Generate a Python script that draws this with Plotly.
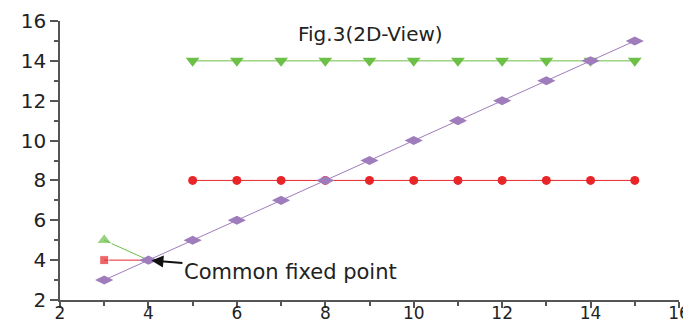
import plotly.graph_objects as go

# Data
diag_x = [3, 4, 5, 6, 7, 8, 9, 10, 11, 12, 13, 14, 15]
diag_y = [3, 4, 5, 6, 7, 8, 9, 10, 11, 12, 13, 14, 15]

green_start_x = [3, 4]
green_start_y = [5, 4]
green_x = [5, 6, 7, 8, 9, 10, 11, 12, 13, 14, 15]
green_y = [14, 14, 14, 14, 14, 14, 14, 14, 14, 14, 14]

red_start_x = [3, 4]
red_start_y = [4, 4]
red_x = [5, 6, 7, 8, 9, 10, 11, 12, 13, 14, 15]
red_y = [8, 8, 8, 8, 8, 8, 8, 8, 8, 8, 8]

fixed_point = (4, 4)
title_text = "Fig.3(2D-View)"
annot_text = "Common fixed point"

GREEN = "#6cbf47"
RED = "#e8262a"
PURPLE = "#9f7cbb"
FONT = "DejaVu Sans, Liberation Sans, Arial"

fig = go.Figure()

fig.add_trace(go.Scatter(x=green_start_x, y=green_start_y, mode="lines+markers",
                         line=dict(color=GREEN, width=1),
                         marker=dict(symbol="triangle-up", size=[13, 0], color=GREEN)))
fig.add_trace(go.Scatter(x=red_start_x, y=red_start_y, mode="lines+markers",
                         line=dict(color=RED, width=1),
                         marker=dict(symbol="square", size=[9, 0], color=RED)))
fig.add_trace(go.Scatter(x=green_x, y=green_y, mode="lines+markers",
                         line=dict(color=GREEN, width=1),
                         marker=dict(symbol="triangle-down", size=12, color=GREEN)))
fig.add_trace(go.Scatter(x=red_x, y=red_y, mode="lines+markers",
                         line=dict(color=RED, width=1),
                         marker=dict(symbol="circle", size=9, color=RED)))
fig.add_trace(go.Scatter(x=diag_x, y=diag_y, mode="lines+markers",
                         line=dict(color=PURPLE, width=1),
                         marker=dict(symbol="diamond-wide", size=13, color=PURPLE)))

axis_common = dict(
    showgrid=False, zeroline=False, showline=True, linecolor="#555555", linewidth=1.5,
    ticks="outside", tickwidth=1.5, tickcolor="#555555",
    dtick=2, tick0=2, automargin=False,
    minor=dict(dtick=1, tick0=2, ticks="outside", ticklen=4, tickwidth=1.5, tickcolor="#555555"),
)

fig.update_xaxes(range=[2, 16], ticklen=6,
                 tickfont=dict(family=FONT, size=17, color="#222222"),
                 ticklabelstandoff=-9, **axis_common)
fig.update_yaxes(range=[2, 16], ticklen=8,
                 tickfont=dict(family=FONT, size=20, color="#222222"),
                 **axis_common)

# page body has an 8px default margin; size the figure so the plot area lands at
# x 60..679 and y 21..300 in the 691x323 window
W, H = 683, 315
ml, mr, mt, mb = 52, 12, 13, 23
pw, ph = W - ml - mr, H - mt - mb

fig.add_annotation(x=fixed_point[0], y=fixed_point[1], xref="x", yref="y",
                   text=annot_text, showarrow=True, ax=142, ay=12,
                   arrowhead=2, arrowsize=1.2, arrowwidth=2, arrowcolor="#111111",
                   standoff=3,
                   font=dict(family=FONT, size=21, color="#222222"))
fig.add_annotation(x=(370 - 60) / pw, y=1 - (34 - 21) / ph, xref="paper", yref="paper",
                   xanchor="center", yanchor="middle",
                   text=title_text, showarrow=False,
                   font=dict(family=FONT, size=20, color="#222222"))

fig.update_layout(
    width=W, height=H,
    margin=dict(l=ml, r=mr, t=mt, b=mb),
    paper_bgcolor="white", plot_bgcolor="white",
    showlegend=False,
)

fig.write_html("out.html")
